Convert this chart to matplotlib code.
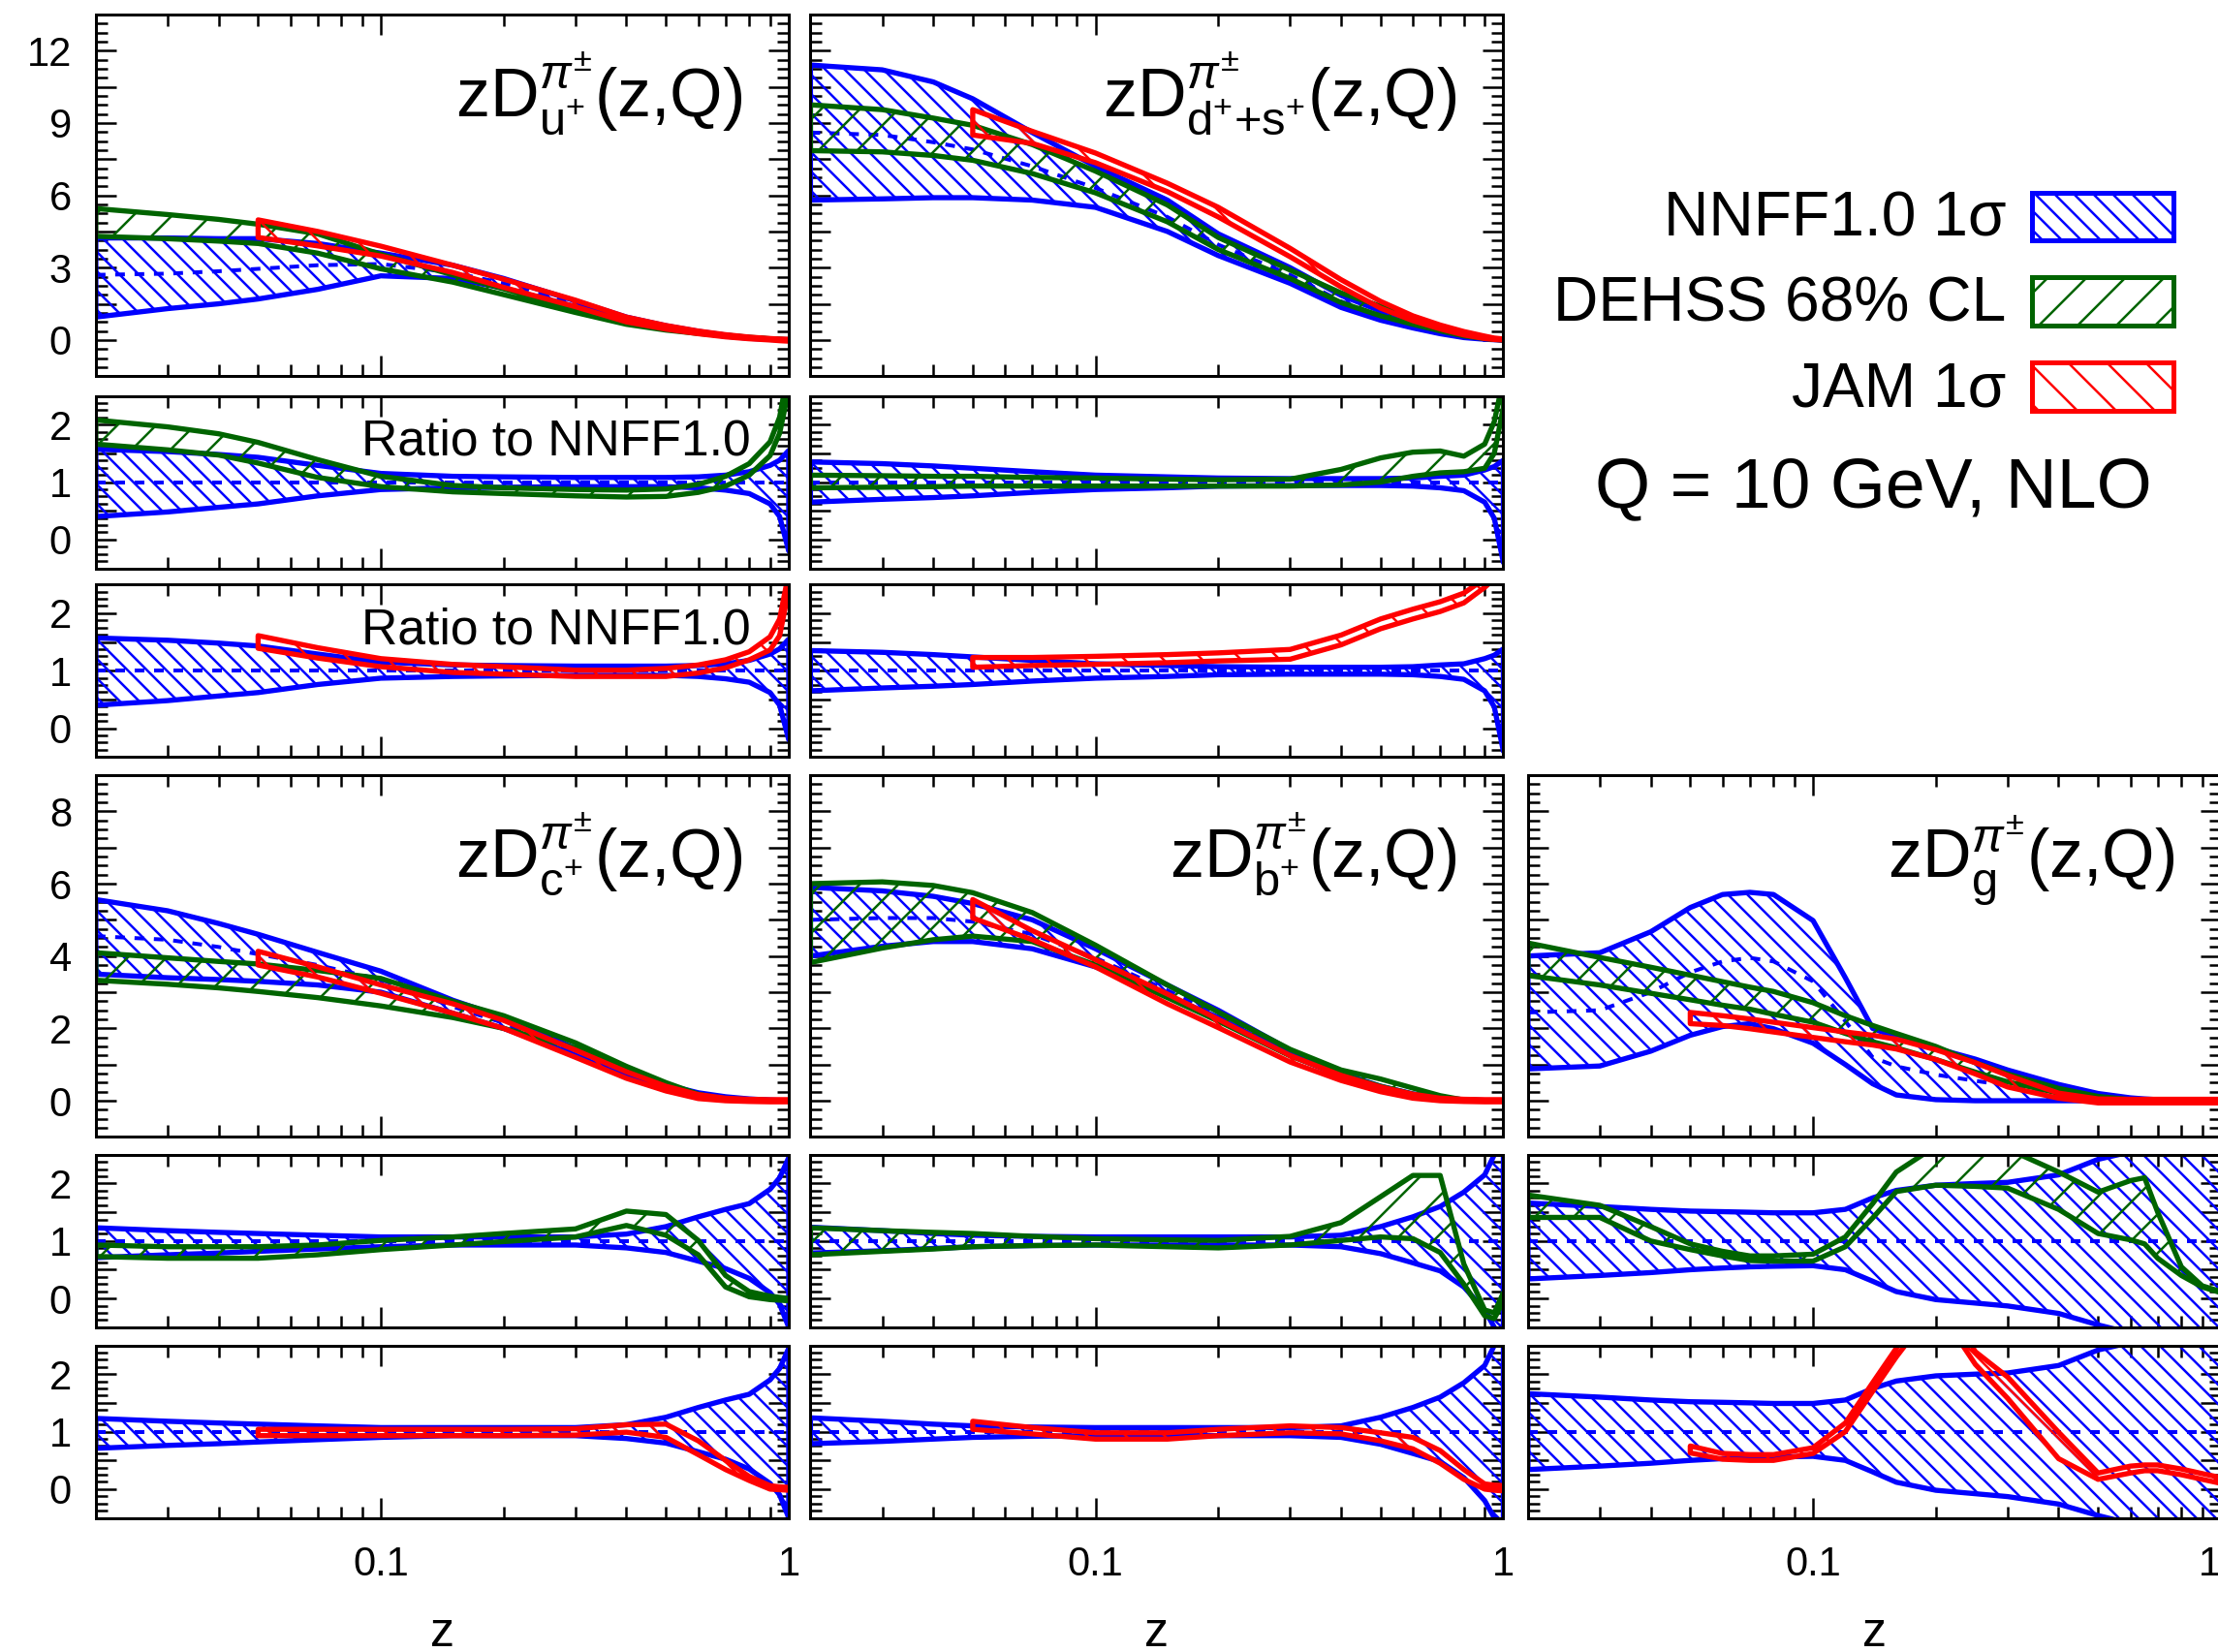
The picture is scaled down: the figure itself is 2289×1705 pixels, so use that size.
import numpy as np
import matplotlib
matplotlib.use("agg")
import matplotlib.pyplot as plt
from matplotlib import ticker
from matplotlib.patches import Rectangle

plt.rcParams["font.family"] = ["Liberation Sans", "DejaVu Sans"]
plt.rcParams["mathtext.fontset"] = "custom"
plt.rcParams["mathtext.rm"] = "Liberation Sans"
plt.rcParams["mathtext.it"] = "Liberation Sans:italic"
plt.rcParams["mathtext.bf"] = "Liberation Sans:bold"
plt.rcParams["hatch.linewidth"] = 1.5

BLUE = "#0000ff"
GREEN = "#006400"
RED = "#ff0000"

# ---------------------------------------------------------------- z grids
Z = [0.02, 0.03, 0.04, 0.05, 0.07, 0.1, 0.15, 0.2, 0.3, 0.4, 0.5, 0.6, 0.7, 0.8, 0.9, 0.95, 1.0]
ZJ = Z[3:]  # JAM starts at z = 0.05
ZG = [0.02, 0.03, 0.04, 0.05, 0.06, 0.07, 0.08, 0.1, 0.12, 0.14, 0.16, 0.2, 0.25, 0.3,
      0.4, 0.5, 0.6, 0.65, 0.7, 0.8, 0.9, 1.0]
ZGJ = ZG[3:]

# ---------------------------------------------------------------- u+
U_NNFF_HI = [4.23, 4.23, 4.2, 4.2, 4.0, 3.6, 3.1, 2.55, 1.62, 0.95, 0.59, 0.36, 0.2, 0.1, 0.04, 0.02, 0.01]
U_NNFF_C = [2.7, 2.75, 2.85, 2.95, 3.1, 3.15, 2.8, 2.35, 1.5, 0.88, 0.55, 0.33, 0.18, 0.085, 0.03, 0.012, 0.0]
U_NNFF_LO = [0.95, 1.3, 1.5, 1.7, 2.1, 2.66, 2.55, 2.15, 1.38, 0.81, 0.5, 0.3, 0.155, 0.068, 0.02, 0.005, -0.01]
U_DEHSS_HI = [5.45, 5.2, 5.0, 4.8, 4.4, 3.55, 2.7, 2.12, 1.3, 0.76, 0.48, 0.32, 0.2, 0.11, 0.05, 0.025, 0.01]
U_DEHSS_LO = [4.3, 4.2, 4.1, 4.0, 3.6, 2.95, 2.4, 1.88, 1.14, 0.65, 0.41, 0.27, 0.17, 0.09, 0.04, 0.02, 0.0]
U_JAM_HI = [4.98, 4.5, 3.89, 3.1, 2.52, 1.65, 0.95, 0.6, 0.37, 0.22, 0.12, 0.06, 0.04, 0.03]
U_JAM_LO = [4.25, 3.9, 3.48, 2.8, 2.18, 1.38, 0.75, 0.45, 0.26, 0.13, 0.05, 0.0, -0.03, -0.05]
U_R_NNFF_HI = [1.57, 1.53, 1.48, 1.43, 1.29, 1.15, 1.1, 1.09, 1.08, 1.08, 1.08, 1.09, 1.12, 1.18, 1.29, 1.38, 1.55]
U_R_NNFF_LO = [0.40, 0.48, 0.56, 0.62, 0.76, 0.87, 0.9, 0.91, 0.92, 0.92, 0.92, 0.9, 0.86, 0.8, 0.62, 0.4, -0.2]
U_R_DEHSS_HI = [2.08, 1.96, 1.84, 1.69, 1.39, 1.1, 0.94, 0.9, 0.87, 0.86, 0.88, 0.96, 1.1, 1.32, 1.7, 2.13, 3.0]
U_R_DEHSS_LO = [1.66, 1.56, 1.47, 1.33, 1.08, 0.92, 0.83, 0.8, 0.76, 0.74, 0.75, 0.82, 0.93, 1.12, 1.46, 1.85, 2.6]
U_R_JAM_HI = [1.61, 1.4, 1.21, 1.11, 1.07, 1.01, 1.01, 1.04, 1.1, 1.19, 1.33, 1.59, 1.9, 2.7]
U_R_JAM_LO = [1.39, 1.22, 1.07, 0.97, 0.94, 0.9, 0.9, 0.9, 0.96, 1.05, 1.19, 1.36, 1.61, 2.4]

# ---------------------------------------------------------------- d+ + s+
DS_NNFF_HI = [11.4, 11.2, 10.7, 10.0, 8.6, 7.2, 5.8, 4.4, 3.0, 1.85, 1.2, 0.72, 0.42, 0.2, 0.07, 0.03, 0.0]
DS_NNFF_C = [8.6, 8.5, 8.2, 7.9, 7.2, 6.3, 5.1, 3.95, 2.7, 1.6, 1.0, 0.6, 0.34, 0.15, 0.05, 0.02, 0.0]
DS_NNFF_LO = [5.8, 5.85, 5.9, 5.9, 5.8, 5.5, 4.5, 3.5, 2.35, 1.35, 0.82, 0.5, 0.26, 0.1, 0.03, 0.01, 0.0]
DS_DEHSS_HI = [9.75, 9.55, 9.2, 8.9, 8.1, 7.0, 5.6, 4.25, 2.9, 1.95, 1.4, 0.9, 0.52, 0.23, 0.08, 0.04, 0.01]
DS_DEHSS_LO = [7.85, 7.8, 7.65, 7.45, 6.9, 6.1, 4.9, 3.75, 2.55, 1.55, 1.0, 0.65, 0.38, 0.17, 0.06, 0.02, 0.0]
DS_JAM_HI = [9.55, 8.65, 7.75, 6.5, 5.5, 3.8, 2.5, 1.6, 1.0, 0.62, 0.35, 0.16, 0.08, 0.04]
DS_JAM_LO = [8.5, 8.15, 7.35, 6.15, 5.1, 3.45, 2.2, 1.32, 0.8, 0.46, 0.21, 0.06, 0.02, 0.0]
DS_R_NNFF_HI = [1.35, 1.32, 1.28, 1.24, 1.18, 1.12, 1.09, 1.07, 1.06, 1.06, 1.06, 1.07, 1.1, 1.12, 1.21, 1.27, 1.38]
DS_R_NNFF_LO = [0.65, 0.7, 0.73, 0.76, 0.82, 0.87, 0.9, 0.93, 0.94, 0.94, 0.94, 0.93, 0.9, 0.85, 0.65, 0.37, -0.4]
DS_R_DEHSS_HI = [1.12, 1.11, 1.1, 1.1, 1.08, 1.07, 1.05, 1.04, 1.05, 1.22, 1.42, 1.52, 1.54, 1.45, 1.66, 2.05, 2.8]
DS_R_DEHSS_LO = [0.9, 0.91, 0.92, 0.93, 0.93, 0.93, 0.93, 0.93, 0.93, 0.95, 1.0, 1.1, 1.16, 1.18, 1.24, 1.5, 2.3]
DS_R_JAM_HI = [1.23, 1.23, 1.25, 1.28, 1.31, 1.37, 1.62, 1.9, 2.07, 2.2, 2.35, 2.6, 2.75, 2.9]
DS_R_JAM_LO = [1.06, 1.09, 1.11, 1.14, 1.17, 1.2, 1.45, 1.73, 1.9, 2.03, 2.18, 2.45, 2.6, 2.75]

# ---------------------------------------------------------------- c+
C_NNFF_HI = [5.56, 5.25, 4.9, 4.6, 4.1, 3.58, 2.78, 2.3, 1.44, 0.8, 0.44, 0.22, 0.11, 0.05, 0.02, 0.01, 0.01]
C_NNFF_C = [4.55, 4.45, 4.25, 4.05, 3.75, 3.35, 2.6, 2.15, 1.35, 0.73, 0.36, 0.16, 0.07, 0.03, 0.01, 0.005, 0.0]
C_NNFF_LO = [3.5, 3.4, 3.35, 3.3, 3.2, 3.0, 2.42, 2.0, 1.26, 0.65, 0.29, 0.11, 0.035, 0.01, 0.0, 0.0, -0.01]
C_DEHSS_HI = [4.09, 3.95, 3.85, 3.78, 3.6, 3.38, 2.75, 2.35, 1.6, 0.95, 0.5, 0.18, 0.04, 0.01, 0.0, 0.0, 0.0]
C_DEHSS_LO = [3.33, 3.22, 3.12, 3.02, 2.85, 2.62, 2.3, 2.0, 1.45, 0.85, 0.42, 0.13, 0.02, 0.0, 0.0, 0.0, 0.0]
C_JAM_HI = [4.13, 3.7, 3.2, 2.68, 2.22, 1.4, 0.8, 0.4, 0.17, 0.07, 0.04, 0.03, 0.03, 0.03]
C_JAM_LO = [3.75, 3.42, 2.97, 2.42, 2.0, 1.2, 0.62, 0.27, 0.06, 0.0, -0.02, -0.03, -0.03, -0.03]
C_R_NNFF_HI = [1.23, 1.18, 1.15, 1.13, 1.1, 1.07, 1.07, 1.07, 1.07, 1.12, 1.25, 1.42, 1.55, 1.65, 1.9, 2.1, 2.45]
C_R_NNFF_LO = [0.71, 0.76, 0.79, 0.82, 0.86, 0.9, 0.93, 0.93, 0.93, 0.88, 0.8, 0.65, 0.52, 0.35, 0.1, -0.1, -0.5]
C_R_DEHSS_HI = [0.93, 0.9, 0.9, 0.9, 0.93, 1.01, 1.07, 1.13, 1.21, 1.52, 1.46, 1.01, 0.4, 0.12, 0.04, 0.02, 0.0]
C_R_DEHSS_LO = [0.73, 0.7, 0.7, 0.7, 0.76, 0.85, 0.93, 0.99, 1.07, 1.27, 1.1, 0.76, 0.2, 0.03, -0.02, -0.03, -0.04]
C_R_JAM_HI = [1.04, 1.04, 1.04, 1.04, 1.04, 1.05, 1.12, 1.13, 0.84, 0.5, 0.22, 0.06, 0.04, 0.03]
C_R_JAM_LO = [0.93, 0.93, 0.93, 0.93, 0.93, 0.94, 0.99, 0.9, 0.6, 0.34, 0.15, 0.0, -0.01, -0.02]

# ---------------------------------------------------------------- b+
B_NNFF_HI = [5.9, 5.8, 5.65, 5.45, 5.0, 4.2, 3.2, 2.5, 1.4, 0.76, 0.4, 0.19, 0.08, 0.03, 0.01, 0.01, 0.01]
B_NNFF_C = [5.0, 5.05, 5.05, 4.95, 4.6, 3.95, 3.05, 2.4, 1.33, 0.72, 0.37, 0.17, 0.07, 0.025, 0.008, 0.003, 0.0]
B_NNFF_LO = [4.0, 4.27, 4.4, 4.4, 4.2, 3.7, 2.9, 2.3, 1.26, 0.68, 0.34, 0.15, 0.06, 0.02, 0.005, 0.0, -0.01]
B_DEHSS_HI = [6.0, 6.05, 5.95, 5.75, 5.2, 4.3, 3.2, 2.45, 1.42, 0.85, 0.6, 0.35, 0.14, 0.02, 0.0, 0.0, 0.0]
B_DEHSS_LO = [3.82, 4.22, 4.45, 4.55, 4.4, 3.75, 2.85, 2.2, 1.24, 0.72, 0.4, 0.18, 0.06, 0.01, 0.0, 0.0, 0.0]
B_JAM_HI = [5.56, 4.7, 3.9, 2.95, 2.25, 1.25, 0.7, 0.38, 0.18, 0.07, 0.04, 0.03, 0.03, 0.03]
B_JAM_LO = [5.05, 4.45, 3.7, 2.68, 2.02, 1.07, 0.56, 0.25, 0.07, 0.0, -0.02, -0.03, -0.03, -0.03]
B_R_NNFF_HI = [1.24, 1.18, 1.13, 1.1, 1.08, 1.07, 1.07, 1.07, 1.07, 1.1, 1.25, 1.42, 1.6, 1.85, 2.15, 2.5, 2.9]
B_R_NNFF_LO = [0.79, 0.83, 0.87, 0.9, 0.92, 0.93, 0.93, 0.93, 0.93, 0.9, 0.78, 0.62, 0.48, 0.2, -0.2, -0.5, -1.0]
B_R_DEHSS_HI = [1.23, 1.18, 1.15, 1.13, 1.08, 1.04, 1.02, 1.01, 1.08, 1.32, 1.77, 2.14, 2.14, 0.6, -0.2, -0.25, 0.1]
B_R_DEHSS_LO = [0.76, 0.82, 0.86, 0.9, 0.92, 0.93, 0.9, 0.88, 0.93, 1.01, 1.07, 1.04, 0.8, 0.25, -0.3, -0.35, -0.05]
B_R_JAM_HI = [1.18, 1.07, 0.98, 0.98, 1.04, 1.1, 1.07, 0.98, 0.9, 0.67, 0.34, 0.09, 0.07, 0.06]
B_R_JAM_LO = [1.04, 0.96, 0.87, 0.87, 0.93, 0.98, 0.96, 0.84, 0.7, 0.45, 0.17, 0.0, -0.02, -0.03]

# ---------------------------------------------------------------- gluon
G_NNFF_HI = [4.0, 4.09, 4.67, 5.34, 5.7, 5.76, 5.7, 4.98, 3.4, 2.0, 1.75, 1.45, 1.15, 0.85,
             0.45, 0.2, 0.08, 0.05, 0.03, 0.01, 0.0, 0.0]
G_NNFF_C = [2.44, 2.5, 3.0, 3.55, 3.85, 3.95, 3.85, 3.3, 2.2, 1.2, 0.95, 0.72, 0.55, 0.42,
            0.21, 0.09, 0.035, 0.02, 0.012, 0.004, 0.0, 0.0]
G_NNFF_LO = [0.88, 0.96, 1.37, 1.81, 2.05, 2.13, 1.99, 1.59, 1.0, 0.47, 0.16, 0.03, 0.0, 0.0,
             0.0, 0.0, 0.0, 0.0, 0.0, 0.0, 0.0, 0.0]
G_DEHSS_HI = [4.36, 3.96, 3.69, 3.47, 3.29, 3.14, 3.02, 2.71, 2.35, 2.08, 1.86, 1.5, 1.05, 0.74,
              0.34, 0.12, 0.03, 0.01, 0.0, 0.0, 0.0, 0.0]
G_DEHSS_LO = [3.46, 3.2, 2.97, 2.79, 2.64, 2.53, 2.39, 2.17, 1.86, 1.63, 1.46, 1.14, 0.79, 0.52,
              0.21, 0.07, 0.02, 0.0, 0.0, 0.0, 0.0, 0.0]
G_JAM_HI = [2.44, 2.35, 2.26, 2.17, 2.02, 1.9, 1.81, 1.7, 1.41, 1.05, 0.7, 0.21, 0.05, 0.04,
            0.04, 0.04, 0.04, 0.04, 0.04]
G_JAM_LO = [2.13, 2.08, 1.99, 1.9, 1.75, 1.63, 1.54, 1.43, 1.14, 0.74, 0.38, 0.07, -0.06, -0.06,
            -0.06, -0.06, -0.06, -0.06, -0.06]
G_R_NNFF_HI = [1.66, 1.6, 1.55, 1.52, 1.51, 1.5, 1.49, 1.49, 1.55, 1.75, 1.88, 1.97, 2.0, 2.02,
               2.15, 2.42, 2.55, 2.6, 2.65, 2.7, 2.75, 2.8]
G_R_NNFF_LO = [0.34, 0.4, 0.45, 0.5, 0.53, 0.55, 0.56, 0.57, 0.5, 0.3, 0.12, -0.02, -0.08, -0.13,
               -0.26, -0.46, -0.6, -0.65, -0.7, -0.75, -0.8, -0.85]
G_R_DEHSS_HI = [1.8, 1.62, 1.25, 0.95, 0.82, 0.74, 0.74, 0.77, 1.07, 1.65, 2.2, 2.65, 2.7, 2.6,
                2.2, 1.85, 2.05, 2.1, 1.5, 0.55, 0.22, 0.12]
G_R_DEHSS_LO = [1.41, 1.41, 1.0, 0.85, 0.74, 0.66, 0.65, 0.65, 0.9, 1.4, 1.86, 1.97, 1.95, 1.92,
                1.55, 1.13, 1.02, 0.95, 0.7, 0.4, 0.2, 0.1]
G_R_JAM_HI = [0.75, 0.62, 0.6, 0.6, 0.72, 1.15, 1.85, 2.45, 3.5, 2.39, 1.95, 0.99, 0.28, 0.4,
              0.42, 0.42, 0.35, 0.27, 0.2]
G_R_JAM_LO = [0.63, 0.52, 0.5, 0.5, 0.62, 1.0, 1.7, 2.3, 3.2, 2.17, 1.58, 0.53, 0.17, 0.28,
              0.32, 0.32, 0.25, 0.17, 0.1]

LEG_LABELS = ["NNFF1.0 1\u03c3", "DEHSS 68% CL", "JAM 1\u03c3"]
INFO_TEXT = "Q = 10 GeV, NLO"
RATIO_TEXT = "Ratio to NNFF1.0"
RATIO_REF = 1.0
X_TICKS = [0.1, 1.0]

COLORS = [BLUE, GREEN, RED]
HATCHES = ["\\\\", "/", "\\"]

PANELS = [
    dict(col=0, row="top", z=Z, zj=ZJ, lab=r"$\mathrm{zD}^{\pi^{\pm}}_{\mathrm{u}^{+}}\mathrm{(z{,}Q)}$",
         nnff=(U_NNFF_LO, U_NNFF_C, U_NNFF_HI), dehss=(U_DEHSS_LO, U_DEHSS_HI), jam=(U_JAM_LO, U_JAM_HI),
         rn=(U_R_NNFF_LO, U_R_NNFF_HI), rd=(U_R_DEHSS_LO, U_R_DEHSS_HI), rj=(U_R_JAM_LO, U_R_JAM_HI)),
    dict(col=1, row="top", z=Z, zj=ZJ,
         lab=r"$\mathrm{zD}^{\pi^{\pm}}_{\mathrm{d}^{+}\mathrm{+s}^{+}}\mathrm{(z{,}Q)}$",
         nnff=(DS_NNFF_LO, DS_NNFF_C, DS_NNFF_HI), dehss=(DS_DEHSS_LO, DS_DEHSS_HI), jam=(DS_JAM_LO, DS_JAM_HI),
         rn=(DS_R_NNFF_LO, DS_R_NNFF_HI), rd=(DS_R_DEHSS_LO, DS_R_DEHSS_HI), rj=(DS_R_JAM_LO, DS_R_JAM_HI)),
    dict(col=0, row="bot", z=Z, zj=ZJ, lab=r"$\mathrm{zD}^{\pi^{\pm}}_{\mathrm{c}^{+}}\mathrm{(z{,}Q)}$",
         nnff=(C_NNFF_LO, C_NNFF_C, C_NNFF_HI), dehss=(C_DEHSS_LO, C_DEHSS_HI), jam=(C_JAM_LO, C_JAM_HI),
         rn=(C_R_NNFF_LO, C_R_NNFF_HI), rd=(C_R_DEHSS_LO, C_R_DEHSS_HI), rj=(C_R_JAM_LO, C_R_JAM_HI)),
    dict(col=1, row="bot", z=Z, zj=ZJ, lab=r"$\mathrm{zD}^{\pi^{\pm}}_{\mathrm{b}^{+}}\mathrm{(z{,}Q)}$",
         nnff=(B_NNFF_LO, B_NNFF_C, B_NNFF_HI), dehss=(B_DEHSS_LO, B_DEHSS_HI), jam=(B_JAM_LO, B_JAM_HI),
         rn=(B_R_NNFF_LO, B_R_NNFF_HI), rd=(B_R_DEHSS_LO, B_R_DEHSS_HI), rj=(B_R_JAM_LO, B_R_JAM_HI)),
    dict(col=2, row="bot", z=ZG, zj=ZGJ, lab=r"$\mathrm{zD}^{\pi^{\pm}}_{\mathrm{g}}\mathrm{(z{,}Q)}$",
         nnff=(G_NNFF_LO, G_NNFF_C, G_NNFF_HI), dehss=(G_DEHSS_LO, G_DEHSS_HI), jam=(G_JAM_LO, G_JAM_HI),
         rn=(G_R_NNFF_LO, G_R_NNFF_HI), rd=(G_R_DEHSS_LO, G_R_DEHSS_HI), rj=(G_R_JAM_LO, G_R_JAM_HI)),
]

# ---------------------------------------------------------------- layout
COL_X = [0.0432, 0.3654, 0.6889]
COL_W = 0.3124
MAIN_H = 0.219
RAT_H = 0.1044
ROW_Y = {"top": (0.7723, 0.6560, 0.5418), "bot": (0.3118, 0.1966, 0.0812)}
MAIN_Y = {"top": dict(ylim=(-1.5, 13.5), major=1.5, step=3, minor=0.375),
          "bot": dict(ylim=(-1.0, 9.0), major=1.0, step=2, minor=0.25)}
RAT_Y = dict(ylim=(-0.5, 2.5), major=0.5, step=1, minor=0.125)

TICK_FS = 25
BAND_LW = 3.2
DASH_LW = 2.4


def y_formatter(step):
    def f(v, pos):
        k = v / step
        if abs(k - round(k)) < 1e-6:
            return "%d" % round(v)
        return ""
    return ticker.FuncFormatter(f)


def style(ax, ylim, major, step, minor, show_x, show_y):
    ax.set_xscale("log")
    ax.set_xlim(0.02, 1.0)
    ax.set_ylim(*ylim)
    ax.yaxis.set_major_locator(ticker.MultipleLocator(major))
    ax.yaxis.set_minor_locator(ticker.MultipleLocator(minor))
    ax.yaxis.set_major_formatter(y_formatter(step))
    ax.set_xticks(X_TICKS)
    ax.set_xticklabels(["%g" % v for v in X_TICKS])
    ax.xaxis.set_minor_locator(ticker.LogLocator(base=10, subs=np.arange(2, 10), numticks=20))
    ax.xaxis.set_minor_formatter(ticker.NullFormatter())
    ax.tick_params(which="both", direction="in", top=True, right=True, width=1.5,
                   labelsize=TICK_FS, color="black")
    ax.tick_params(which="major", length=12.5)
    ax.tick_params(which="minor", length=7)
    ax.tick_params(axis="x", pad=17, labelbottom=show_x)
    ax.tick_params(axis="y", pad=15, labelleft=show_y)
    for s in ax.spines.values():
        s.set_linewidth(1.8)
        s.set_zorder(10)


def band(ax, z, lo, hi, color, hatch, zorder, lw=BAND_LW):
    z = np.asarray(z, float)
    xs = np.concatenate([z, z[::-1]])
    ys = np.concatenate([np.asarray(lo, float), np.asarray(hi, float)[::-1]])
    ax.fill(xs, ys, facecolor="none", edgecolor=color, hatch=hatch,
            linewidth=lw, joinstyle="round", zorder=zorder)


fig = plt.figure(figsize=(2289 / 120, 1705 / 120), dpi=120)

for p in PANELS:
    x0 = COL_X[p["col"]]
    ym, yr1, yr2 = ROW_Y[p["row"]]
    show_y = p["col"] == 0
    last_row = p["row"] == "bot"

    ax = fig.add_axes([x0, ym, COL_W, MAIN_H])
    style(ax, show_x=False, show_y=show_y, **MAIN_Y[p["row"]])
    lo, c, hi = p["nnff"]
    band(ax, p["z"], lo, hi, BLUE, HATCHES[0], 2)
    ax.plot(p["z"], c, color=BLUE, lw=DASH_LW, dashes=(2.5, 2.5), zorder=2.2)
    band(ax, p["z"], p["dehss"][0], p["dehss"][1], GREEN, HATCHES[1], 3)
    band(ax, p["zj"], p["jam"][0], p["jam"][1], RED, HATCHES[2], 4)
    ax.text(0.933, 0.718, p["lab"], transform=ax.transAxes, ha="right", va="baseline",
            fontsize=42, zorder=12)

    ax1 = fig.add_axes([x0, yr1, COL_W, RAT_H])
    style(ax1, show_x=False, show_y=show_y, **RAT_Y)
    band(ax1, p["z"], p["rn"][0], p["rn"][1], BLUE, HATCHES[0], 2)
    ax1.axhline(RATIO_REF, color=BLUE, lw=DASH_LW, dashes=(2.5, 2.5), zorder=2.2)
    band(ax1, p["z"], p["rd"][0], p["rd"][1], GREEN, HATCHES[1], 3)

    ax2 = fig.add_axes([x0, yr2, COL_W, RAT_H])
    style(ax2, show_x=last_row, show_y=show_y, **RAT_Y)
    band(ax2, p["z"], p["rn"][0], p["rn"][1], BLUE, HATCHES[0], 2)
    ax2.axhline(RATIO_REF, color=BLUE, lw=DASH_LW, dashes=(2.5, 2.5), zorder=2.2)
    band(ax2, p["zj"], p["rj"][0], p["rj"][1], RED, HATCHES[2], 4)
    if p["col"] == 2:
        # the right edge of this column runs off the page: keep its "1" inside
        ax2.get_xticklabels()[-1].set_horizontalalignment("right")

    if p["row"] == "top" and p["col"] == 0:
        for a in (ax1, ax2):
            a.text(0.9455, 0.655, RATIO_TEXT, transform=a.transAxes, ha="right",
                   va="baseline", fontsize=31, zorder=12)

    if last_row:
        fig.text(x0 + COL_W / 2, 0.0111, "z", ha="center", va="center", fontsize=30)

# ---------------------------------------------------------------- legend
LEG_TEXT_X = 0.9045
LEG_BASE = [0.8573, 0.8055, 0.7537]
LEG_BOX_Y = [0.8690, 0.8177, 0.7661]
for lab, col, h, yb, yc in zip(LEG_LABELS, COLORS, HATCHES, LEG_BASE, LEG_BOX_Y):
    fig.text(LEG_TEXT_X, yb, lab, ha="right", va="baseline", fontsize=38.5)
    fig.add_artist(Rectangle((0.9160, yc - 0.0145), 0.0638, 0.029, transform=fig.transFigure,
                             fill=False, edgecolor=col, hatch=h, linewidth=3.0))
fig.text(0.8445, 0.6931, INFO_TEXT, ha="center", va="baseline", fontsize=44)

fig.savefig("out.png", dpi=120)
